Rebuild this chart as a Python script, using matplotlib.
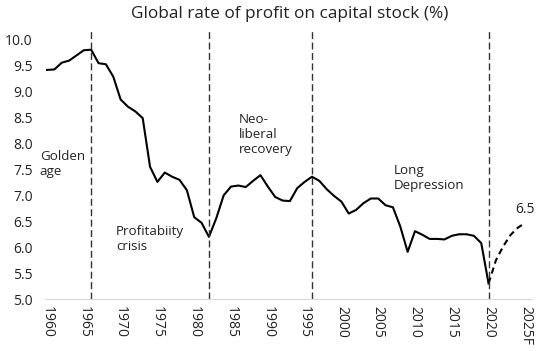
import matplotlib
matplotlib.use("Agg")
import matplotlib.pyplot as plt

plt.rcParams['font.family'] = ['Open Sans', 'DejaVu Sans']

# 数据
years = list(range(1960, 2021))
rate = [9.42, 9.43, 9.56, 9.60, 9.70, 9.80, 9.81, 9.55, 9.53, 9.29,
        8.85, 8.71, 8.62, 8.49, 7.55, 7.26, 7.44, 7.36, 7.30, 7.10,
        6.58, 6.47, 6.20, 6.56, 7.00, 7.17, 7.19, 7.16, 7.28, 7.39,
        7.17, 6.97, 6.90, 6.89, 7.14, 7.26, 7.36, 7.28, 7.12, 6.99,
        6.88, 6.65, 6.72, 6.85, 6.94, 6.94, 6.81, 6.77, 6.40, 5.91,
        6.31, 6.24, 6.16, 6.16, 6.15, 6.22, 6.25, 6.25, 6.22, 6.08,
        5.30]
fc_years = [2020, 2021, 2022, 2023, 2024, 2025]
fc_rate = [5.30, 5.75, 6.02, 6.24, 6.38, 6.47]
period_breaks = [1966, 1982, 1996, 2020]
period_labels = ["Golden\nage", "Profitabiity\ncrisis", "Neo-\nliberal\nrecovery", "Long\nDepression"]
label_pos = [(1959.0, 7.6), (1969.4, 6.15), (1986.0, 8.18), (2007.1, 7.33)]
tick_years = list(range(1960, 2030, 5))
tick_labels = [str(y) for y in tick_years[:-1]] + ["2025F"]

fig = plt.figure(figsize=(5.4, 3.51), dpi=100)
ax = fig.add_axes([0.0837, 0.148, 0.9015, 0.7635])

# 主线和预测线
ax.plot(years, rate, color='black', lw=1.5)
ax.plot(fc_years, fc_rate, color='black', lw=1.5, linestyle=(0, (3, 2)))

# 分期竖线
for x in period_breaks:
    ax.axvline(x, color='#333333', lw=1.0, linestyle=(0, (5, 2.5)))

for txt, (x, y) in zip(period_labels, label_pos):
    ax.text(x, y, txt, fontsize=9.6, ha='left', va='center', color='#222222',
            linespacing=1.2)

ax.annotate(f"{fc_rate[-1]:.1f}", (fc_years[-1], fc_rate[-1]), xytext=(0, 4),
            textcoords='offset points', ha='center', va='bottom', fontsize=10,
            color='#222222')

ax.set_xlim(1959.75, 2025.9)
ax.set_ylim(5.0, 10.17)
ax.set_yticks([5.0 + 0.5 * i for i in range(11)])
ax.yaxis.set_major_formatter(matplotlib.ticker.FormatStrFormatter('%.1f'))
ax.set_xticks(tick_years)
ax.set_xticklabels(tick_labels, rotation=-90)
ax.tick_params(axis='both', length=0, labelsize=10, colors='#222222')
ax.tick_params(axis='x', pad=5)
ax.tick_params(axis='y', pad=9)
for s in ['top', 'right', 'left']:
    ax.spines[s].set_visible(False)
ax.spines['bottom'].set_color('#d9d9d9')

fig.suptitle('Global rate of profit on capital stock (%)', x=0.537, y=0.982,
             fontsize=12.4, color='#222222')

plt.savefig("out.png", dpi=100)
